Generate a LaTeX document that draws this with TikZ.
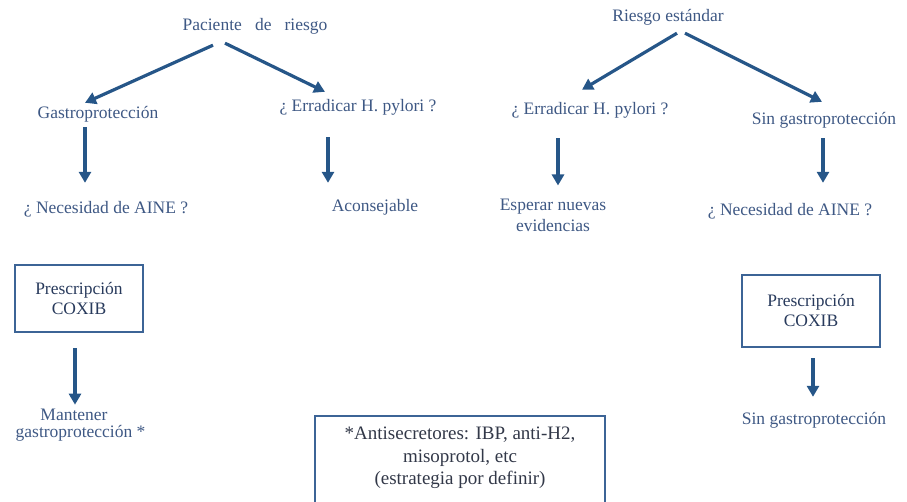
\documentclass[tikz,border=0pt]{standalone}
\usepackage{fontspec}
\setmainfont{Liberation Serif}
\usetikzlibrary{positioning, arrows.meta}

\definecolor{txtazul}{RGB}{62,88,132}
\definecolor{flecha}{RGB}{38,86,136}
\definecolor{borde}{RGB}{60,100,150}
\definecolor{cajatxt}{RGB}{40,58,92}
\definecolor{notatxt}{RGB}{50,56,72}

\begin{document}
\begin{tikzpicture}[x=1pt, y=-1pt,
    lbl/.style={font=\fontsize{17.5}{21}\selectfont, text=txtazul, inner sep=2pt, text height=12pt, text depth=4pt},
    lbl2/.style={font=\fontsize{17.5}{21}\selectfont, text=txtazul, inner sep=2pt, align=center},
    caja/.style={draw=borde, line width=2.3pt, font=\fontsize{17.5}{20}\selectfont, text=cajatxt, align=center},
    nota/.style={draw=borde, line width=2pt, font=\fontsize{19}{22.5}\selectfont, text=notatxt, align=center},
    arr/.style={-{Triangle[length=11pt, width=12pt]}, line width=3.2pt, flecha}]
        \useasboundingbox (0,0) rectangle (907,502);
        % rama izquierda
        \node[lbl] (pac) at (255,27) {Paciente\enspace{} de\enspace{} riesgo};
        \node[lbl] (gas) at (98,115) {Gastroprotección};
        \node[lbl] (erl) at (358,108) {¿ Erradicar H. pylori ?};
        \node[lbl] (necl) at (106,210) {¿ Necesidad de AINE ?};
        \node[lbl] (acon) at (375,208) {Aconsejable};
        \node[caja, minimum width=128pt, minimum height=67pt] (coxl) at (79,298.5) {Prescripción\\COXIB};
        \node[lbl2, font=\fontsize{17.5}{17}\selectfont] (man) at (74,425) {Mantener\\gastroprotección\rlap{ *}};
        % rama derecha
        \node[lbl] (rie) at (668,18) {Riesgo estándar};
        \node[lbl] (err) at (590,111) {¿ Erradicar H. pylori ?};
        \node[lbl] (sgp) at (824,121) {Sin gastroprotección};
        \node[lbl2] (esp) at (553,215) {Esperar nuevas\\evidencias};
        \node[lbl] (necr) at (790,212) {¿ Necesidad de AINE ?};
        \node[caja, minimum width=138pt, minimum height=72pt] (coxr) at (811,311) {Prescripción\\COXIB};
        \node[lbl] (sgp2) at (814,420) {Sin gastroprotección};
        % nota al pie
        \node[nota, anchor=north, minimum width=290pt, inner ysep=11pt, text depth=60pt] (nota) at (460,415)
          {*Antisecretores: IBP, anti-H2,\\misoprotol, etc\\(estrategia por definir)};

        \draw[arr] ([shift={(-42,8)}]pac.south) -- ([shift={(-13,-2)}]gas.north);
        \draw[arr] ([shift={(-30,6)}]pac.south) -- ([shift={(-33,-6)}]erl.north);
        \draw[arr] ([shift={(-13,2)}]gas.south) -- ([shift={(-21,-17)}]necl.north);
        \draw[arr] ([shift={(-30,19)}]erl.south) -- ([shift={(-47,-15)}]acon.north);
        \draw[arr] ([shift={(9,5)}]rie.south) -- ([shift={(-8,-11)}]err.north);
        \draw[arr] ([shift={(17,5)}]rie.south) -- ([shift={(-2,-9)}]sgp.north);
        \draw[arr] ([shift={(-32,17)}]err.south) -- ([shift={(5,-11)}]esp.north);
        \draw[arr] ([shift={(-1,7)}]sgp.south) -- ([shift={(33,-19)}]necr.north);
        \draw[arr] ([shift={(-4,15)}]coxl.south) -- ([shift={(1,-2)}]man.north);
        \draw[arr] ([shift={(2,10)}]coxr.south) -- ([shift={(-1,-13)}]sgp2.north);
     \end{tikzpicture}
\end{document}
